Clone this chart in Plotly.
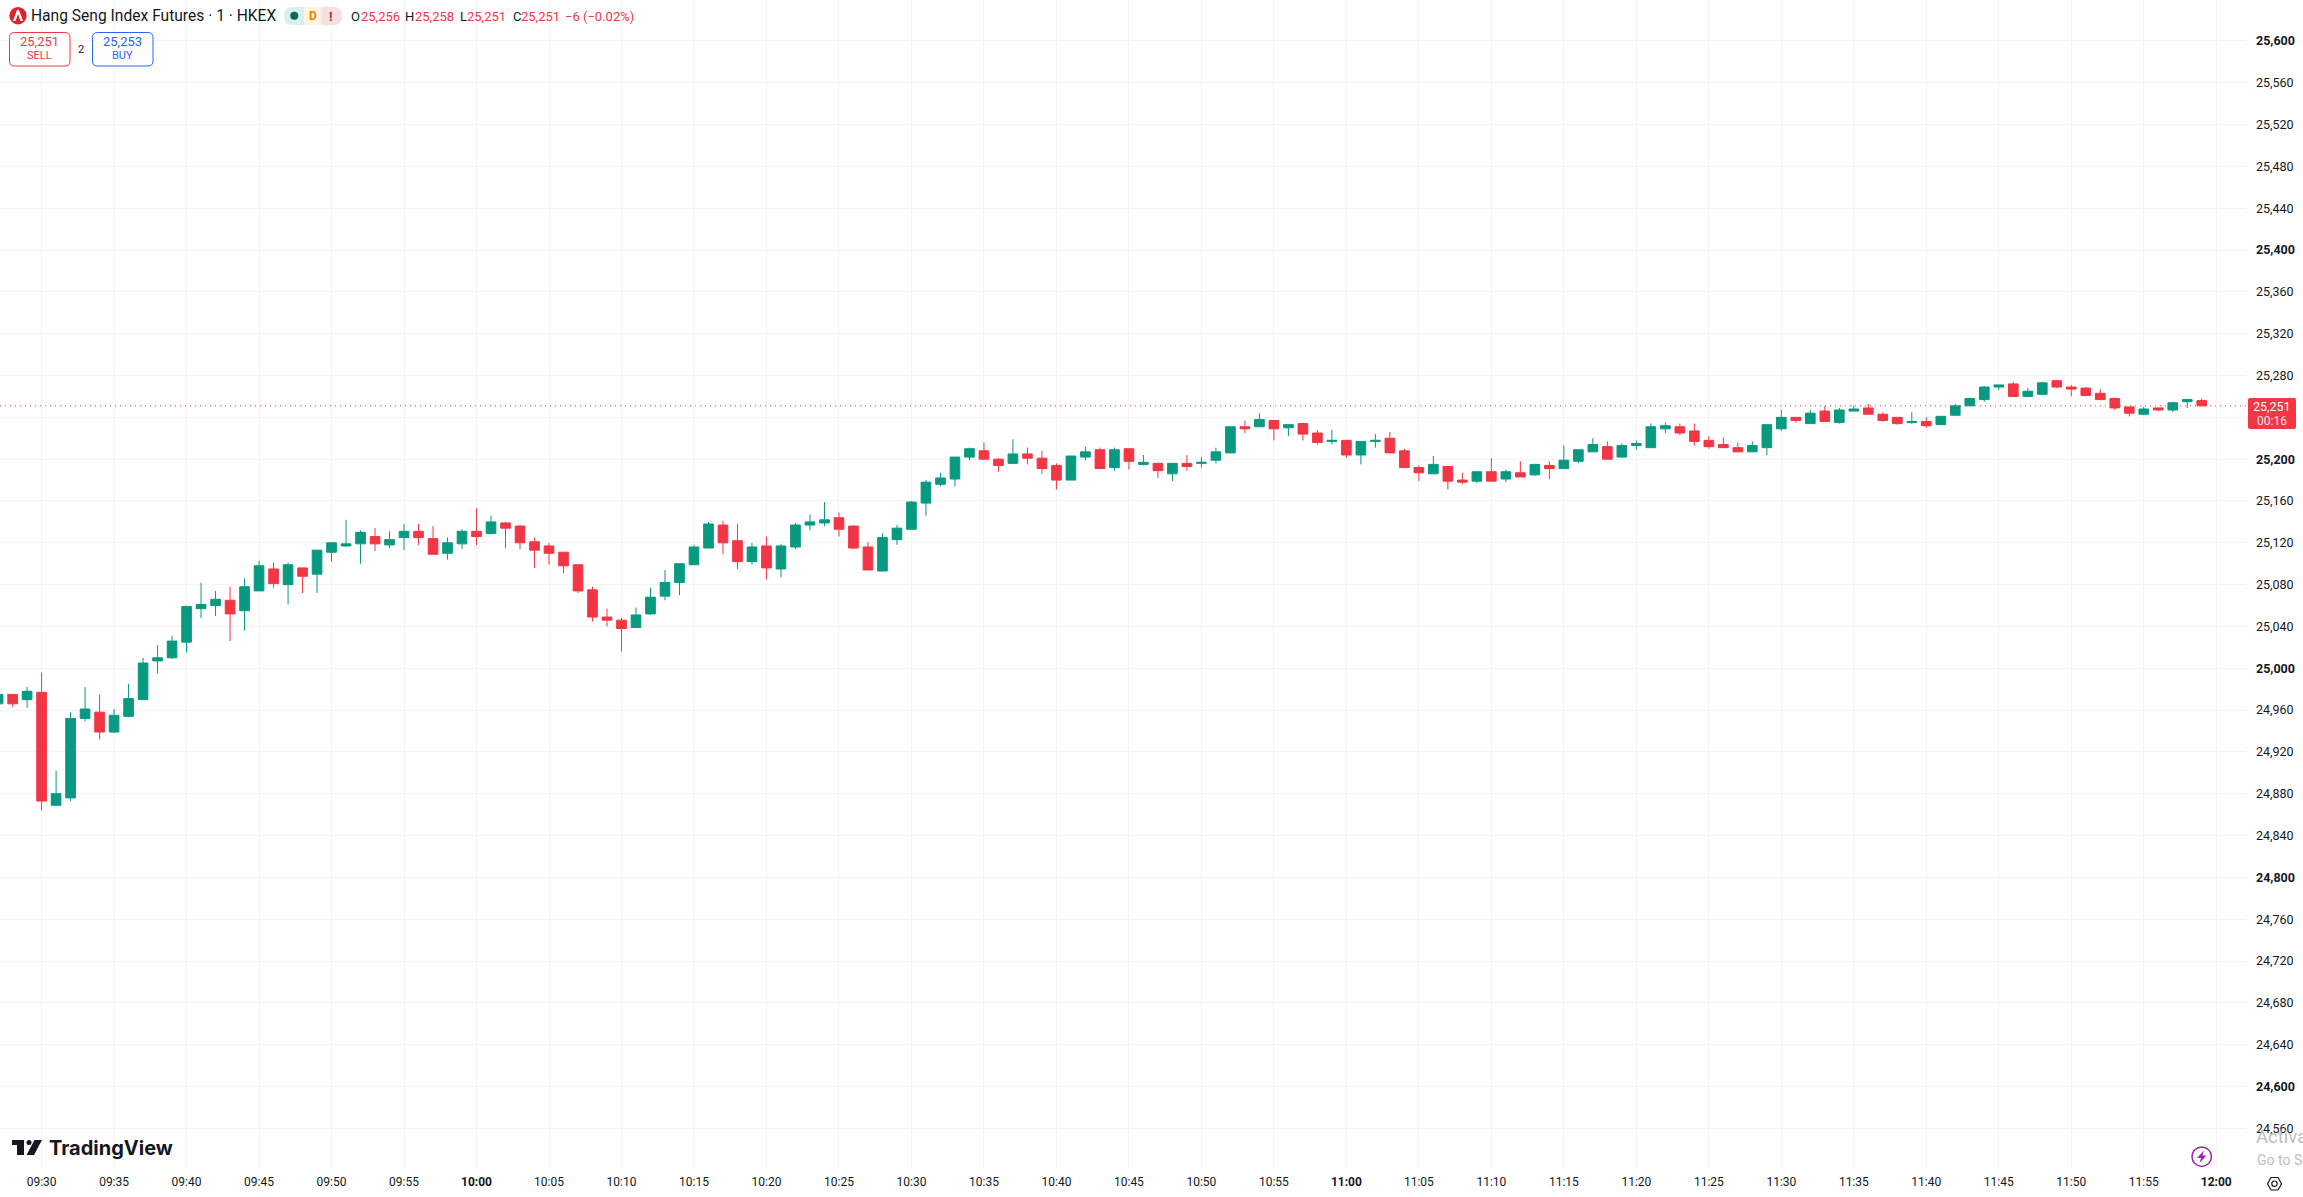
import pandas as pd
import plotly.graph_objects as go

# one minute bars, 09:27 to 11:59
start_time = "2025-06-02 09:27"
open_ = [24966, 24975, 24970, 24977, 24869, 24876, 24952, 24958, 24939, 24954,
         24970, 25007, 25010, 25025, 25057, 25060, 25065, 25055, 25074, 25095,
         25080, 25096, 25090, 25111, 25117, 25119, 25126, 25118, 25125, 25131,
         25124, 25110, 25119, 25131, 25129, 25139, 25136, 25121, 25117, 25111,
         25099, 25075, 25049, 25046, 25039, 25052, 25069, 25082, 25099, 25115,
         25137, 25122, 25102, 25117, 25095, 25116, 25137, 25139, 25144, 25136,
         25116, 25093, 25123, 25133, 25158, 25176, 25181, 25202, 25208, 25200,
         25196, 25205, 25201, 25194, 25180, 25202, 25209, 25192, 25210, 25195,
         25196, 25186, 25196, 25196, 25199, 25206, 25231, 25231, 25237, 25230,
         25234, 25225, 25217, 25218, 25204, 25217, 25220, 25208, 25192, 25186,
         25193, 25180, 25179, 25188, 25181, 25187, 25185, 25194, 25191, 25198,
         25207, 25212, 25202, 25213, 25211, 25229, 25231, 25227, 25218, 25214,
         25211, 25207, 25211, 25229, 25240, 25234, 25246, 25235, 25246, 25249,
         25243, 25240, 25235, 25236, 25233, 25242, 25251, 25257, 25269, 25272,
         25260, 25262, 25275, 25269, 25268, 25263, 25258, 25250, 25243, 25249,
         25247, 25255, 25256]
high = [24976, 24975, 24982, 24996, 24902, 24958, 24982, 24975, 24961, 24985,
        25010, 25022, 25031, 25060, 25082, 25074, 25078, 25086, 25103, 25101,
        25101, 25096, 25113, 25120, 25142, 25132, 25134, 25131, 25138, 25138,
        25136, 25125, 25133, 25153, 25146, 25140, 25137, 25125, 25120, 25111,
        25099, 25078, 25057, 25048, 25058, 25077, 25094, 25100, 25118, 25140,
        25141, 25138, 25120, 25126, 25119, 25139, 25147, 25159, 25149, 25137,
        25121, 25129, 25137, 25160, 25180, 25187, 25202, 25211, 25216, 25201,
        25219, 25211, 25208, 25196, 25203, 25212, 25211, 25211, 25210, 25204,
        25196, 25196, 25204, 25202, 25211, 25231, 25237, 25244, 25237, 25233,
        25235, 25228, 25228, 25218, 25217, 25224, 25226, 25210, 25194, 25203,
        25193, 25187, 25188, 25201, 25190, 25198, 25195, 25198, 25213, 25209,
        25220, 25217, 25215, 25218, 25234, 25235, 25234, 25234, 25222, 25221,
        25216, 25217, 25233, 25247, 25240, 25247, 25251, 25249, 25251, 25253,
        25245, 25240, 25245, 25240, 25241, 25253, 25259, 25270, 25271, 25274,
        25268, 25274, 25276, 25271, 25269, 25267, 25259, 25250, 25250, 25249,
        25255, 25257, 25258]
low = [24966, 24963, 24962, 24864, 24869, 24873, 24949, 24932, 24938, 24953,
       24970, 24995, 25009, 25015, 25048, 25050, 25026, 25036, 25074, 25077,
       25061, 25072, 25072, 25102, 25116, 25100, 25112, 25115, 25113, 25118,
       25109, 25104, 25114, 25118, 25128, 25115, 25114, 25096, 25099, 25091,
       25072, 25045, 25040, 25016, 25039, 25051, 25065, 25070, 25099, 25115,
       25109, 25095, 25099, 25085, 25087, 25114, 25132, 25136, 25126, 25114,
       25094, 25093, 25118, 25133, 25146, 25174, 25174, 25199, 25199, 25188,
       25196, 25195, 25186, 25171, 25180, 25199, 25191, 25189, 25190, 25194,
       25182, 25179, 25189, 25192, 25196, 25206, 25225, 25231, 25218, 25222,
       25218, 25214, 25214, 25201, 25195, 25211, 25206, 25192, 25179, 25186,
       25171, 25176, 25177, 25179, 25178, 25183, 25184, 25181, 25191, 25196,
       25207, 25200, 25202, 25209, 25211, 25225, 25223, 25213, 25210, 25211,
       25207, 25207, 25204, 25227, 25235, 25234, 25236, 25234, 25246, 25243,
       25236, 25233, 25234, 25230, 25233, 25242, 25251, 25255, 25266, 25260,
       25260, 25262, 25268, 25260, 25260, 25257, 25247, 25241, 25242, 25246,
       25245, 25249, 25251]
close = [24975, 24966, 24978, 24873, 24880, 24952, 24961, 24939, 24955, 24971,
         25005, 25010, 25026, 25059, 25061, 25066, 25052, 25078, 25098, 25081,
         25099, 25088, 25113, 25120, 25119, 25130, 25119, 25123, 25131, 25125,
         25109, 25120, 25131, 25126, 25140, 25134, 25120, 25113, 25110, 25098,
         25074, 25049, 25046, 25038, 25051, 25068, 25082, 25100, 25116, 25138,
         25120, 25102, 25116, 25096, 25117, 25137, 25140, 25142, 25133, 25115,
         25094, 25125, 25134, 25159, 25178, 25182, 25202, 25210, 25200, 25194,
         25205, 25201, 25191, 25180, 25203, 25207, 25191, 25209, 25198, 25197,
         25189, 25196, 25193, 25197, 25207, 25231, 25229, 25238, 25229, 25233,
         25224, 25216, 25218, 25204, 25217, 25218, 25206, 25192, 25187, 25195,
         25179, 25178, 25188, 25179, 25188, 25183, 25195, 25191, 25199, 25209,
         25214, 25200, 25213, 25215, 25231, 25232, 25225, 25217, 25212, 25211,
         25207, 25213, 25233, 25240, 25237, 25244, 25236, 25247, 25248, 25243,
         25237, 25234, 25236, 25232, 25241, 25251, 25258, 25269, 25271, 25260,
         25265, 25273, 25269, 25267, 25261, 25257, 25249, 25244, 25248, 25247,
         25254, 25257, 25251]

price_ticks = [25600, 25560, 25520, 25480, 25440, 25400, 25360, 25320, 25280,
               25240, 25200, 25160, 25120, 25080, 25040, 25000, 24960, 24920,
               24880, 24840, 24800, 24760, 24720, 24680, 24640, 24600, 24560]
time_ticks = ["09:30", "09:35", "09:40", "09:45", "09:50", "09:55", "10:00",
              "10:05", "10:10", "10:15", "10:20", "10:25", "10:30", "10:35",
              "10:40", "10:45", "10:50", "10:55", "11:00", "11:05", "11:10",
              "11:15", "11:20", "11:25", "11:30", "11:35", "11:40", "11:45",
              "11:50", "11:55", "12:00"]
last_price = 25251

GREEN = "#089981"
RED = "#f23645"
BLUE = "#2962ff"
INK = "#131722"
GRID = "#f3f3f4"
FONT = "Roboto"

# plot area in screen pixels, the header and logos are placed from these
PLOT_W = 2247
PLOT_H = 1168
px = lambda x: x / PLOT_W
py = lambda y: 1 - y / PLOT_H

times = pd.date_range(start_time, periods=len(open_), freq="min")
day = start_time[:10]

fig = go.Figure(go.Candlestick(
    x=times, open=open_, high=high, low=low, close=close,
    increasing=dict(line=dict(color=GREEN, width=1), fillcolor=GREEN),
    decreasing=dict(line=dict(color=RED, width=1), fillcolor=RED),
    hoverinfo="skip",
))

shapes = []
notes = []


def rounded(x0, y0, x1, y1, r):
    return (f"M {px(x0+r)} {py(y0)} L {px(x1-r)} {py(y0)} Q {px(x1)} {py(y0)} {px(x1)} {py(y0+r)} "
            f"L {px(x1)} {py(y1-r)} Q {px(x1)} {py(y1)} {px(x1-r)} {py(y1)} "
            f"L {px(x0+r)} {py(y1)} Q {px(x0)} {py(y1)} {px(x0)} {py(y1-r)} "
            f"L {px(x0)} {py(y0+r)} Q {px(x0)} {py(y0)} {px(x0+r)} {py(y0)} Z")


def poly(points):
    return "M " + " L ".join(f"{px(x)} {py(y)}" for x, y in points) + " Z"


def path(d, fill="rgba(0,0,0,0)", line=None, width=1):
    shapes.append(dict(type="path", path=d, xref="paper", yref="paper", fillcolor=fill,
                       line=dict(color=line or "rgba(0,0,0,0)", width=width)))


def circle(cx, cy, r, fill="rgba(0,0,0,0)", line=None, width=1):
    shapes.append(dict(type="circle", xref="paper", yref="paper",
                       x0=px(cx-r), x1=px(cx+r), y0=py(cy+r), y1=py(cy-r), fillcolor=fill,
                       line=dict(color=line or "rgba(0,0,0,0)", width=width)))


def text(x, y, s, size=13, color=INK, anchor="left", family=FONT):
    notes.append(dict(text=s, x=px(x), y=py(y), xref="paper", yref="paper", showarrow=False,
                      xanchor=anchor, yanchor="middle", borderpad=0,
                      font=dict(family=family, size=size, color=color)))


# last price line and its label on the axis
shapes.append(dict(type="line", xref="paper", yref="y", x0=0, x1=1, y0=last_price, y1=last_price,
                   line=dict(color=RED, width=1, dash="1px,4px")))
path(rounded(2248, 398, 2296, 429, 2), fill=RED)
text(2272, 406.5, "25,251", size=12.5, color="white", anchor="center")
text(2272, 420.5, "00:16", size=12, color="#fde3e5", anchor="center")

# header
circle(18, 15.7, 8.7, fill="#d9252b")
path(poly([(17, 10), (19, 10), (23, 21), (20.5, 21), (18, 14), (15.5, 21), (13, 21)]), fill="white")
text(30, 16, "Hang Seng Index Futures · 1 · HKEX", size=15.6)

path(rounded(284, 7, 342, 25, 9), fill="#fff3e0")
path(rounded(284, 7, 304, 25, 9) , fill="#d8f0ea")
path(rounded(321, 7, 342, 25, 9), fill="#f8dfe1")
shapes.append(dict(type="rect", xref="paper", yref="paper", x0=px(296), x1=px(304), y0=py(25), y1=py(7),
                   fillcolor="#d8f0ea", line=dict(width=0)))
shapes.append(dict(type="rect", xref="paper", yref="paper", x0=px(321.7), x1=px(332), y0=py(25), y1=py(7),
                   fillcolor="#f8dfe1", line=dict(width=0)))
circle(294.3, 15.7, 4, fill="#0a6656")
text(313, 16, "<b>D</b>", size=12, color="#f57c00", anchor="center")
text(331, 16, "<b>!</b>", size=13, color="#b2283a", anchor="center")

for x, s, c in [(350, "O", INK), (360, "25,256", RED), (404, "H", INK), (414, "25,258", RED),
                (459, "L", INK), (466, "25,251", RED), (511.5, "C", INK), (520, "25,251", RED),
                (564, "−6 (−0.02%)", RED)]:
    text(x, 16, s, size=13, color=c)

path(rounded(9.5, 32.5, 70, 66, 5), fill="white", line=RED)
text(39.5, 41, "25,251", size=13, color=RED, anchor="center")
text(39.5, 56, "SELL", size=11, color=RED, anchor="center")
text(81, 49, "2", size=11, anchor="center")
path(rounded(92.5, 32.5, 153, 66, 5), fill="white", line=BLUE)
text(122.5, 41, "25,253", size=13, color=BLUE, anchor="center")
text(122.5, 56, "BUY", size=11, color=BLUE, anchor="center")

# tradingview logo
path(poly([(12, 1140), (24, 1140), (24, 1155), (17, 1155), (17, 1145), (12, 1145)]), fill=INK)
circle(29, 1142.4, 2.5, fill=INK)
path(poly([(34.5, 1140), (42, 1140), (34, 1155), (26.5, 1155)]), fill=INK)
text(48, 1148, "<b>TradingView</b>", size=20, family="Inter")

# lightning badge, settings hexagon, windows watermark
circle(2201.7, 1156.7, 9.7, line="#9c27b0", width=1.5)
path(poly([(2204, 1150.5), (2197, 1158), (2201, 1158), (2199.5, 1163), (2206.5, 1155.5), (2202.5, 1155.5)]),
     fill="#9c27b0")
path(poly([(2267.5, 1183.7), (2271, 1177.5), (2278, 1177.5), (2281.5, 1183.7), (2278, 1190), (2271, 1190)]),
     line=INK, width=1.2)
circle(2274.5, 1183.7, 2.7, line=INK, width=1.2)
text(2255.5, 1137, "Activate Windows", size=18.5, color="#bdbdbd")
text(2256, 1160, "Go to Settings to activate Windows.", size=14, color="#bdbdbd")


# hundreds of points are bold, 25,240 sits behind the last price label so it has no text
def price_label(p):
    if p == 25240:
        return " "
    return f"<b>{p:,}</b>" if p % 200 == 0 else f"{p:,}"


price_text = [price_label(p) for p in price_ticks]
time_text = [f"<b>{t}</b>" if t.endswith(":00") else t for t in time_ticks]

fig.update_layout(
    width=2303, height=1197,
    margin=dict(l=0, r=2303 - PLOT_W, t=0, b=1197 - PLOT_H, pad=0),
    paper_bgcolor="white", plot_bgcolor="white",
    showlegend=False,
    boxgap=0.05,
    font=dict(family=FONT, size=12, color=INK),
    shapes=shapes, annotations=notes,
    xaxis=dict(
        type="date",
        range=[f"{day} 09:27:07.9", f"{day} 12:02:07.2"],
        rangeslider=dict(visible=False),
        tickmode="array",
        tickvals=[f"{day} {t}" for t in time_ticks],
        ticktext=time_text,
        showgrid=True, gridcolor=GRID, gridwidth=1,
        zeroline=False, showline=False, ticks="",
        ticklabelstandoff=5,
        tickfont=dict(family=FONT, size=12, color=INK),
    ),
    yaxis=dict(
        side="right",
        range=[24522.0, 25639.2],
        tickmode="array",
        tickvals=price_ticks,
        ticktext=price_text,
        showgrid=True, gridcolor=GRID, gridwidth=1,
        zeroline=False, showline=False, ticks="",
        ticklabelstandoff=8,
        tickfont=dict(family=FONT, size=12.5, color=INK),
    ),
)

fig.write_html("out.html", config={"displayModeBar": False},
               post_script="document.body.style.margin='0';document.body.style.overflow='hidden';")
